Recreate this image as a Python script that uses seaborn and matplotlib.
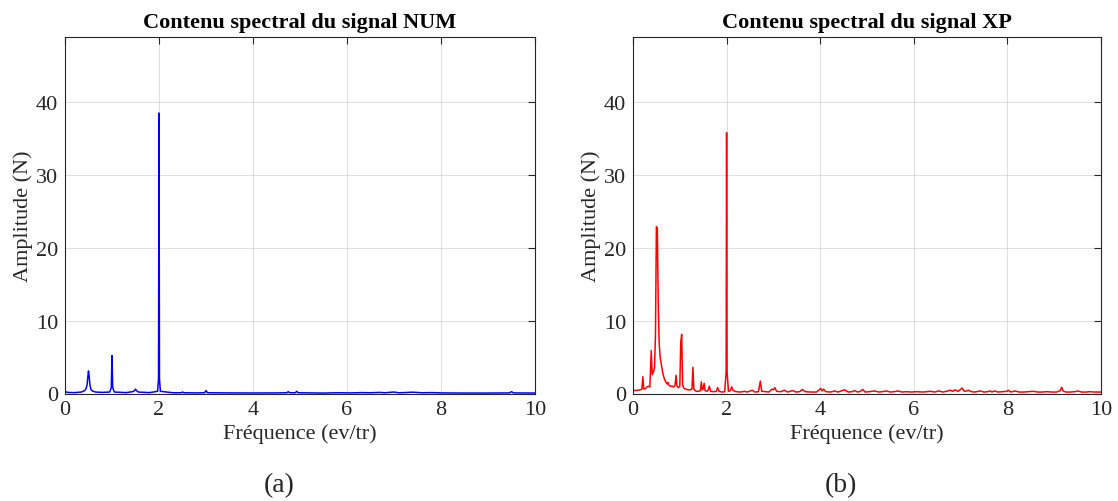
import matplotlib
matplotlib.use('Agg')
import matplotlib.pyplot as plt
import seaborn as sns

# Spectre du signal numerique (NUM)
num_freq = [0.0, 0.05, 0.2, 0.35, 0.42, 0.45, 0.47, 0.485, 0.5, 0.515,
            0.53, 0.55, 0.58, 0.65, 0.8, 0.95, 0.985, 1.0, 1.015, 1.05,
            1.3, 1.44, 1.48, 1.5, 1.52, 1.56, 1.8, 1.97, 1.99, 2.0,
            2.01, 2.03, 2.3, 2.47, 2.5, 2.53, 2.8, 2.97, 3.0, 3.03,
            3.5, 4.0, 4.5, 4.72, 4.75, 4.78, 4.9, 4.93, 4.96, 5.5,
            5.8, 6.1, 6.3, 6.5, 6.7, 6.8, 7.0, 7.1, 7.2, 7.4,
            7.6, 7.8, 8.0, 8.5, 9.0, 9.46, 9.5, 9.54, 10.0]
num_amp = [0.3, 0.15, 0.12, 0.2, 0.4, 0.7, 1.2, 2.2, 3.1, 2.3,
           1.2, 0.6, 0.35, 0.2, 0.15, 0.2, 0.8, 5.2, 0.8, 0.2,
           0.12, 0.25, 0.4, 0.6, 0.4, 0.2, 0.12, 0.3, 2.0, 38.5,
           2.0, 0.3, 0.1, 0.1, 0.2, 0.1, 0.08, 0.1, 0.4, 0.1,
           0.08, 0.07, 0.08, 0.1, 0.25, 0.1, 0.1, 0.3, 0.1, 0.06,
           0.1, 0.08, 0.12, 0.1, 0.15, 0.1, 0.2, 0.1, 0.12, 0.18,
           0.1, 0.12, 0.08, 0.06, 0.06, 0.08, 0.25, 0.08, 0.06]

# Spectre du signal experimental (XP)
xp_freq = [0.0, 0.05, 0.1, 0.15, 0.19, 0.21, 0.23, 0.27, 0.3, 0.33,
           0.36, 0.39, 0.41, 0.44, 0.46, 0.48, 0.5, 0.52, 0.54, 0.56,
           0.58, 0.61, 0.64, 0.67, 0.7, 0.73, 0.75, 0.77, 0.8, 0.84,
           0.87, 0.9, 0.92, 0.94, 0.97, 1.0, 1.02, 1.04, 1.06, 1.09,
           1.13, 1.18, 1.22, 1.26, 1.28, 1.3, 1.35, 1.4, 1.44, 1.46,
           1.48, 1.5, 1.52, 1.54, 1.58, 1.61, 1.63, 1.66, 1.72, 1.78,
           1.81, 1.84, 1.9, 1.96, 1.99, 2.0, 2.01, 2.04, 2.08, 2.11,
           2.14, 2.2, 2.3, 2.38, 2.44, 2.55, 2.6, 2.68, 2.72, 2.75,
           2.85, 2.9, 2.97, 3.0, 3.03, 3.07, 3.15, 3.24, 3.3, 3.41,
           3.48, 3.56, 3.62, 3.68, 3.8, 3.92, 3.98, 4.01, 4.04, 4.07,
           4.12, 4.22, 4.31, 4.38, 4.52, 4.6, 4.68, 4.74, 4.8, 4.86,
           4.91, 4.96, 5.05, 5.16, 5.25, 5.33, 5.41, 5.5, 5.58, 5.66,
           5.75, 5.84, 5.95, 6.05, 6.2, 6.35, 6.45, 6.53, 6.62, 6.7,
           6.78, 6.83, 6.88, 6.95, 7.03, 7.08, 7.13, 7.17, 7.23, 7.3,
           7.42, 7.5, 7.58, 7.63, 7.67, 7.72, 7.8, 7.9, 7.99, 8.02,
           8.07, 8.16, 8.25, 8.35, 8.45, 8.55, 8.65, 8.75, 8.84, 8.95,
           9.05, 9.13, 9.16, 9.19, 9.25, 9.35, 9.44, 9.51, 9.58, 9.68,
           9.76, 9.85, 9.93, 10.0]
xp_amp = [0.5, 0.4, 0.45, 0.5, 0.6, 2.3, 0.6, 0.7, 0.9, 1.0,
          0.9, 5.9, 2.6, 3.0, 3.6, 8.0, 22.9, 22.6, 12.0, 6.8,
          5.0, 3.8, 2.7, 2.0, 1.6, 1.3, 1.5, 1.1, 1.0, 1.0,
          0.9, 1.2, 2.5, 1.0, 0.8, 1.0, 7.0, 8.1, 1.2, 0.7,
          0.6, 0.5, 0.5, 0.6, 3.6, 0.6, 0.3, 0.3, 0.4, 1.6,
          0.5, 0.6, 1.4, 0.4, 0.3, 0.5, 1.0, 0.3, 0.25, 0.3,
          0.8, 0.3, 0.2, 0.25, 3.0, 35.8, 3.0, 0.3, 0.4, 0.9,
          0.4, 0.25, 0.2, 0.3, 0.2, 0.45, 0.2, 0.25, 1.7, 0.3,
          0.25, 0.2, 0.6, 0.5, 0.8, 0.3, 0.25, 0.45, 0.2, 0.4,
          0.2, 0.25, 0.55, 0.25, 0.2, 0.2, 0.5, 0.7, 0.35, 0.6,
          0.25, 0.2, 0.35, 0.2, 0.5, 0.2, 0.25, 0.4, 0.2, 0.3,
          0.55, 0.2, 0.25, 0.35, 0.2, 0.25, 0.35, 0.2, 0.25, 0.35,
          0.2, 0.25, 0.2, 0.25, 0.2, 0.3, 0.2, 0.35, 0.2, 0.3,
          0.45, 0.3, 0.5, 0.3, 0.75, 0.3, 0.35, 0.45, 0.25, 0.2,
          0.35, 0.2, 0.25, 0.35, 0.2, 0.35, 0.2, 0.25, 0.3, 0.45,
          0.2, 0.35, 0.2, 0.2, 0.25, 0.3, 0.2, 0.2, 0.25, 0.2,
          0.2, 0.4, 0.85, 0.35, 0.2, 0.2, 0.25, 0.35, 0.2, 0.2,
          0.25, 0.2, 0.2, 0.2]

x_ticks = [0, 2, 4, 6, 8, 10]
y_ticks = [0, 10, 20, 30, 40]

sns.set_style('white')
plt.rcParams['font.family'] = ['Liberation Serif', 'DejaVu Serif']

W, H = 1118, 502
fig = plt.figure(figsize=(W / 100, H / 100), dpi=100)
bottom = 1 - 394.5 / H
height = (394.5 - 37.5) / H
ax1 = fig.add_axes([65 / W, bottom, 470 / W, height])
ax2 = fig.add_axes([633 / W, bottom, 468 / W, height])

panels = [
    (ax1, num_freq, num_amp, 'blue', 'Contenu spectral du signal NUM'),
    (ax2, xp_freq, xp_amp, 'red', 'Contenu spectral du signal XP'),
]

for ax, f, a, c, title in panels:
    sns.lineplot(x=f, y=a, ax=ax, color=c, linewidth=1.1,
                 estimator=None, sort=False)
    ax.set_xlim(0, 10)
    ax.set_ylim(0, 49)
    ax.set_xticks(x_ticks)
    ax.set_yticks(y_ticks)
    ax.grid(True, color='0.15', alpha=0.15, linewidth=0.7)
    ax.set_axisbelow(True)
    ax.tick_params(direction='in', top=True, right=True, length=5,
                   width=0.8, labelsize=16, colors='0.15', pad=5)
    for s in ax.spines.values():
        s.set_color('0.15')
        s.set_linewidth(0.8)
    ax.set_title(title, fontsize=16, fontweight='bold', color='black', pad=7)
    ax.set_xlabel('Fréquence (ev/tr)', fontsize=16, color='0.15', labelpad=3)
    ax.set_ylabel('Amplitude (N)', fontsize=16, color='0.15', labelpad=2)

fig.text(0.25, 0.032, '(a)', fontsize=20, ha='center', va='center')
fig.text(0.752, 0.032, '(b)', fontsize=20, ha='center', va='center')

fig.savefig('out.png', dpi=100)
